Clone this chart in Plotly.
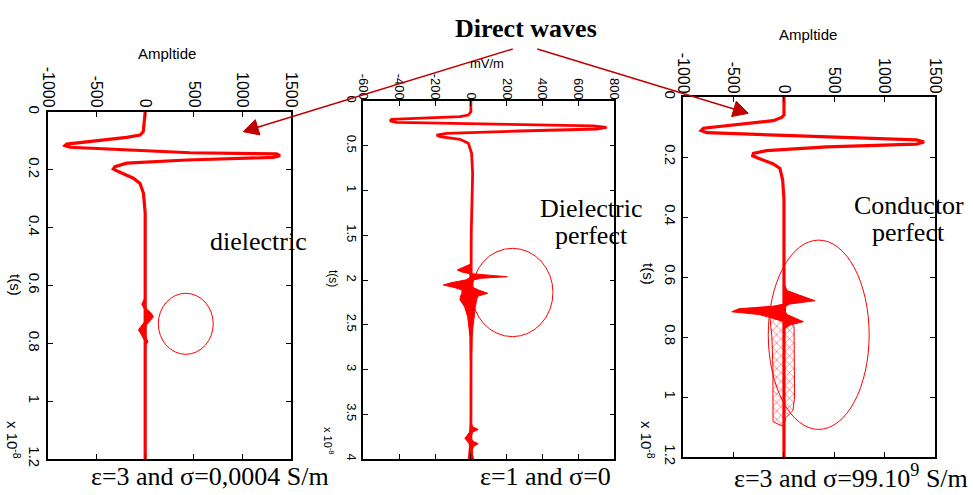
import math
import plotly.graph_objects as go

W, H = 973, 495

# ---------------- data (time in units of 1e-8 s) ----------------
# dielectric medium: eps=3, sigma=0.0004 S/m
t_diel = [0, 0.068, 0.080, 0.088, 0.111, 0.116, 0.122, 0.141, 0.145, 0.151, 0.157,
          0.166, 0.177, 0.189, 0.197, 0.206, 0.229, 0.247, 0.281, 0.35, 1.2]
a_diel = [0, -20, -53, -190, -808, -825, -774, 461, 1352, 1387, 1318,
          427, -190, -311, -328, -277, -122, -53, -18, 0, 0]
t_diel_ev = [0.64, 0.655, 0.665, 0.68, 0.695, 0.708, 0.725, 0.74, 0.754, 0.77, 0.785, 0.794, 0.81]
pos_diel_ev = [0, 0, 0, 10, 60, 85, 40, 5, 0, 0, 15, 30, 0]
neg_diel_ev = [0, -25, -35, -10, 0, 0, -5, -40, -69, -40, -10, 0, 0]

# perfect dielectric: eps=1, sigma=0 (mV/m)
t_free = [0, 0.12, 0.157, 0.175, 0.205, 0.223, 0.238, 0.261, 0.279, 0.294, 0.313,
          0.335, 0.361, 0.380, 0.399, 0.428, 0.473, 0.585, 0.81, 1.48, 4.0]
a_free = [0, 0, -14, -61, -442, -451, -414, 274, 683, 757, 702,
          274, -135, -191, -172, -61, -14, 4, 10, 2, 0]
t_free_ev = [1.82, 1.86, 1.888, 1.91, 1.93, 1.945, 1.963, 1.98, 2.00, 2.03, 2.056,
             2.08, 2.11, 2.149, 2.18, 2.22, 2.30, 2.41, 2.52, 2.63, 2.75, 2.90]
pos_free_ev = [0, 0, 0, 0, 5, 80, 203, 60, 12, 10, 10,
               12, 40, 94, 40, 32, 25, 17, 12, 7, 5, 3]
neg_free_ev = [0, -40, -76, -50, -8, -5, -5, -10, -30, -110, -154,
               -100, -50, -50, -58, -61, -35, -18, -10, -5, -4, -3]
t_free_ev2 = [3.60, 3.64, 3.67, 3.70, 3.74, 3.77, 3.80, 3.83, 3.86, 3.90, 3.95, 4.0]
pos_free_ev2 = [3, 10, 41, 10, 3, 3, 10, 41, 15, 8, 10, 15]
neg_free_ev2 = [-3, -3, -5, -8, -25, -33, -20, -10, -8, -8, -12, -15]

# perfect conductor: eps=3, sigma=99e9 S/m
t_cond = [0, 0.06, 0.068, 0.079, 0.104, 0.112, 0.119, 0.134, 0.143, 0.150, 0.157,
          0.166, 0.179, 0.188, 0.196, 0.204, 0.223, 0.238, 0.277, 0.343, 1.2]
a_cond = [0, 0, -23, -106, -800, -823, -767, 423, 1316, 1392, 1316,
          423, -172, -304, -311, -255, -106, -40, -13, 0, 0]
t_cond_ev = [0.62, 0.645, 0.66, 0.679, 0.69, 0.697, 0.706, 0.716, 0.725, 0.735, 0.749, 0.76, 0.775]
pos_cond_ev = [0, 30, 150, 308, 60, 20, 15, 15, 30, 100, 192, 60, 0]
neg_cond_ev = [0, 0, 0, 0, 0, -100, -450, -519, -250, -140, 0, 0, 0]
# outline of the ringing zone behind the reflection
t_ring = [0.735, 0.80, 0.90, 1.0, 1.05, 1.082, 1.09, 1.099, 1.07, 1.045, 1.0, 0.9, 0.8, 0.765, 0.735, 0.735]
a_ring = [-140, -120, -110, -106, -106, -109, -60, 0, 15, 90, 105, 105, 105, 100, 0, -140]

# tick labels
amp_ticks = [-1000, -500, 0, 500, 1000, 1500]
amp_text = ["-1000", "-500", "0", "500", "1000", "1500"]
mv_ticks = [-600, -400, -200, 0, 200, 400, 600, 800]
mv_text = ["-600", "-400", "-200", "0", "200", "400", "600", "800"]
t12_ticks = [0, 0.2, 0.4, 0.6, 0.8, 1, 1.2]
t12_text = ["0", "0.2", "0.4", "0.6", "0.8", "1", "1.2"]
t4_ticks = [0, 0.5, 1, 1.5, 2, 2.5, 3, 3.5, 4]
t4_text = ["0", "0.5", "1", "1.5", "2", "2.5", "3", "3.5", "4"]

RED = "#ff0000"
DARKRED = "#c00000"
SERIF = "Times New Roman, Liberation Serif, serif"
SANS = "Arial, Liberation Sans, sans-serif"


def px(x):
    return x / W


def py(y):
    return 1 - y / H


fig = go.Figure()


def wiggle(t, a, xa, ya, width=3):
    fig.add_trace(go.Scatter(x=a, y=t, mode="lines", xaxis=xa, yaxis=ya,
                             line=dict(color=RED, width=width), showlegend=False,
                             hoverinfo="skip"))


def filled(t, a, xa, ya):
    fig.add_trace(go.Scatter(x=a, y=t, mode="lines", xaxis=xa, yaxis=ya, fill="tozerox",
                             fillcolor=RED, line=dict(color=RED, width=1),
                             showlegend=False, hoverinfo="skip"))


# panel 1
filled(t_diel_ev, pos_diel_ev, "x", "y")
filled(t_diel_ev, neg_diel_ev, "x", "y")
wiggle(t_diel, a_diel, "x", "y", 3.2)

# panel 2
filled(t_free_ev, pos_free_ev, "x2", "y2")
filled(t_free_ev, neg_free_ev, "x2", "y2")
filled(t_free_ev2, pos_free_ev2, "x2", "y2")
filled(t_free_ev2, neg_free_ev2, "x2", "y2")
wiggle(t_free, a_free, "x2", "y2", 2.8)

# panel 3
fig.add_trace(go.Scatter(x=a_ring, y=t_ring, mode="lines", xaxis="x3", yaxis="y3",
                         fill="toself", fillcolor="rgba(255,255,255,0)",
                         fillpattern=dict(shape="x", fgcolor=RED, bgcolor="rgba(255,255,255,0)",
                                          size=6, solidity=0.14),
                         line=dict(color=RED, width=1), showlegend=False, hoverinfo="skip"))
filled(t_cond_ev, pos_cond_ev, "x3", "y3")
filled(t_cond_ev, neg_cond_ev, "x3", "y3")
wiggle(t_cond, a_cond, "x3", "y3", 3.2)

# axes
box = dict(showline=True, linecolor="black", linewidth=1.5, mirror="ticks", ticks="inside",
           ticklen=5, tickwidth=1, tickcolor="black", showgrid=False, zeroline=False,
           tickangle=90, automargin=False, fixedrange=True)

fig.update_layout(
    xaxis=dict(box, domain=[px(48), px(291)], range=[-1000, 1500], side="top", anchor="y",
               tickvals=amp_ticks, ticktext=amp_text, tickfont=dict(size=16),
               ticklabelstandoff=-3),
    yaxis=dict(box, domain=[py(459), py(112)], range=[1.2, 0], anchor="x",
               tickvals=t12_ticks, ticktext=t12_text, tickfont=dict(size=15),
               ticklabelstandoff=-1),
    xaxis2=dict(box, domain=[px(363.3), px(614.3)], range=[-600, 800], side="top", anchor="y2",
                tickvals=mv_ticks, ticktext=mv_text, tickfont=dict(size=13),
                ticklabelstandoff=-5),
    yaxis2=dict(box, domain=[py(459), py(101)], range=[4, 0], anchor="x2",
                tickvals=t4_ticks, ticktext=t4_text, tickfont=dict(size=13),
                ticklabelstandoff=-1),
    xaxis3=dict(box, domain=[px(683.3), px(935)], range=[-1000, 1500], side="top", anchor="y3",
                tickvals=amp_ticks, ticktext=amp_text, tickfont=dict(size=16),
                ticklabelstandoff=-4),
    yaxis3=dict(box, domain=[py(457), py(97)], range=[1.2, 0], anchor="x3",
                tickvals=t12_ticks, ticktext=t12_text, tickfont=dict(size=15),
                ticklabelstandoff=-1),
)

# highlighted reflections
ell = dict(type="circle", line=dict(color=RED, width=1), fillcolor="rgba(0,0,0,0)")
fig.add_shape(ell, xref="x", yref="y", x0=135, x1=700, y0=0.627, y1=0.838)
fig.add_shape(ell, xref="x2", yref="y2", x0=6, x1=458, y0=1.646, y1=2.633)
fig.add_shape(ell, xref="x3", yref="y3", x0=-156, x1=846, y0=0.477, y1=1.108)

# arrows from the "Direct waves" label to the first arrivals (pixel geometry)
for tip, tail in [((243.3, 131.7), (512.7, 49)), ((748.3, 113.3), (537.3, 49))]:
    dx, dy = tip[0] - tail[0], tip[1] - tail[1]
    n = math.hypot(dx, dy)
    ux, uy = dx / n, dy / n
    bx, by = tip[0] - 15 * ux, tip[1] - 15 * uy
    c1 = (bx - 8 * uy, by + 8 * ux)
    c2 = (bx + 8 * uy, by - 8 * ux)
    fig.add_shape(type="line", xref="paper", yref="paper",
                  x0=px(tail[0]), y0=py(tail[1]), x1=px(bx), y1=py(by),
                  line=dict(color=DARKRED, width=1.5))
    path = "M {:.5f},{:.5f} L {:.5f},{:.5f} L {:.5f},{:.5f} Z".format(
        px(tip[0]), py(tip[1]), px(c1[0]), py(c1[1]), px(c2[0]), py(c2[1]))
    fig.add_shape(type="path", xref="paper", yref="paper", path=path,
                  fillcolor=DARKRED, line=dict(color=DARKRED, width=1))

ann = []


def text(x, y, s, size, family=SANS, angle=0, bold=False):
    if bold:
        s = "<b>" + s + "</b>"
    ann.append(dict(x=px(x), y=py(y), xref="paper", yref="paper", text=s, showarrow=False,
                    textangle=angle, xanchor="center", yanchor="middle",
                    font=dict(size=size, family=family, color="black")))


# axis titles
text(167, 53, "Ampltide", 15)
text(808, 34, "Ampltide", 15)
text(487, 64, "mV/m", 13)
text(16, 285, "t(s)", 15, angle=90)
text(333, 278, "t(s)", 12, angle=90)
text(649, 274, "t(s)", 15, angle=90)
text(14, 440, "x 10<sup>-8</sup>", 15, angle=90)
text(329, 441, "x 10<sup>-8</sup>", 11, angle=90)
text(648, 440, "x 10<sup>-8</sup>", 15, angle=90)

# labels
text(526, 28, "Direct waves", 26, SERIF, bold=True)
text(258, 241, "dielectric", 26, SERIF)
text(591, 208, "Dielectric", 26, SERIF)
text(591, 236, "perfect", 26, SERIF)
text(909, 205, "Conductor", 26, SERIF)
text(908, 233, "perfect", 26, SERIF)
text(210, 476, "ε=3 and σ=0,0004 S/m", 26, SERIF)
text(545, 476, "ε=1 and σ=0", 26, SERIF)
text(851, 476, "ε=3 and σ=99.10<sup>9</sup> S/m", 26, SERIF)

fig.update_layout(annotations=ann, width=W, height=H, margin=dict(l=0, r=0, t=0, b=0),
                  paper_bgcolor="white", plot_bgcolor="white", template="none",
                  font=dict(family=SANS, color="black"), showlegend=False)

fig.write_html("out.html", config={"displayModeBar": False})
